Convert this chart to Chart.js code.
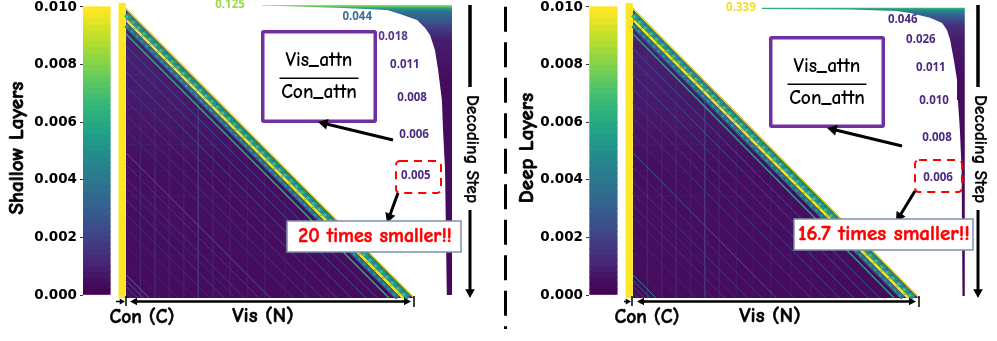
<!DOCTYPE html>
<html>
<head>
<meta charset="utf-8">
<title>Vis_attn / Con_attn</title>
<script src="https://cdn.jsdelivr.net/npm/chart.js@4"></script>
<style>
  html, body { margin: 0; padding: 0; background: #fff; }
  canvas { position: absolute; top: 0; }
</style>
</head>
<body>
<canvas id="shallow" width="507" height="341" style="left:0"></canvas>
<canvas id="deep" width="491" height="341" style="left:506px"></canvas>
<script>
// Colour bar ticks
const tickValues = [0, 0.002, 0.004, 0.006, 0.008, 0.01];
const viridis = ['#440154', '#482878', '#3e4a89', '#31688e', '#26828e', '#1f9e89', '#35b779', '#6ece58', '#b5de2b', '#fde725'];

const shallowRatios = [0.125, 0.044, 0.018, 0.011, 0.008, 0.006, 0.005];
const deepRatios = [0.339, 0.046, 0.026, 0.011, 0.010, 0.008, 0.006];

// Diagonal stripes: distance below the top edge (steps) and colour level 0-1
const shallowDiagOffsets = [9, 13, 17, 22, 27, 32, 37, 42, 50, 54, 59, 62, 66, 71, 76, 82, 88, 92, 94, 96, 98];
const shallowDiagValues = [0.62, 0.24, 0.25, 0.23, 0.2, 0.17, 0.15, 0.13, 0.3, 0.14, 0.17, 0.11, 0.16, 0.11, 0.1, 0.08, 0.07, 0.45, 0.3, 0.2, 0.14];
const deepDiagOffsets = [9, 14, 18, 23, 28, 33, 38, 44, 50, 55, 60, 64, 68, 72, 78, 84, 89, 92, 94, 96, 98];
const deepDiagValues = [0.58, 0.24, 0.24, 0.22, 0.19, 0.17, 0.15, 0.12, 0.28, 0.13, 0.16, 0.11, 0.15, 0.1, 0.1, 0.08, 0.07, 0.46, 0.3, 0.2, 0.14];

// Faint vertical and horizontal stripes of the heatmap
const stripeCols = [5, 10, 15, 20, 25, 30, 36, 42, 48, 55, 62, 70, 80];
const stripeColValues = [0.1, 0.09, 0.09, 0.08, 0.16, 0.08, 0.07, 0.07, 0.07, 0.06, 0.06, 0.06, 0.05];
const stripeRows = [11, 17, 23, 29, 35, 41, 47, 56, 65, 75, 85];
const stripeRowValues = [0.13, 0.12, 0.11, 0.1, 0.09, 0.08, 0.08, 0.06, 0.06, 0.05, 0.05];

// Edge of the ratio curve on the right: column reached at each step
const shallowCurveCols = [47, 53.3, 75.1, 90.3, 94.8, 100.7, 103.5, 105.2, 106.9, 108, 109.3, 109.7, 110.4, 111];
const shallowCurveSteps = [-0.86, -0.69, 0, 0.69, 2.07, 4.14, 6.9, 9.3, 14.5, 21.4, 31.7, 42.1, 55.9, 99];
const deepCurveCols = [44.9, 75.6, 92, 96.5, 103.5, 107.7, 109.4, 110.5, 111.8, 112.9, 113.2, 113.9, 114.5, 114.8];
const deepCurveSteps = [0.34, 0.5, 1, 1.7, 3.4, 5.2, 7.6, 11, 17.9, 24.8, 31.7, 42, 55.9, 99.3];

// Colour level of the curve area going down the steps
const shallowShadeSteps = [-1, -0.35, 0.35, 1.7, 4.1, 6.9, 11, 25, 99];
const shallowShadeValues = [0.9, 0.7, 0.5, 0.35, 0.28, 0.18, 0.08, 0.03, 0.02];
const deepShadeSteps = [-0.2, 0.2, 0.7, 1.7, 3.4, 5.9, 11, 25, 99];
const deepShadeValues = [0.95, 0.6, 0.5, 0.38, 0.26, 0.14, 0.07, 0.03, 0.02];

// Heatmap background going down the steps
const bodyShadeSteps = [0, 30, 55, 100];
const bodyShadeValues = [0.1, 0.07, 0.04, 0.03];

const COMIC = "'Comic Sans MS', 'Comic Neue', Lato, sans-serif";
const Y_PX = 28800; // pixels per colour bar unit

function viridisAt(level) {
  const pos = Math.min(Math.max(level, 0), 1) * (viridis.length - 1);
  const i = Math.min(Math.floor(pos), viridis.length - 2);
  const a = parseInt(viridis[i].slice(1), 16);
  const b = parseInt(viridis[i + 1].slice(1), 16);
  const mix = sh => Math.round(((a >> sh) & 255) * (1 - (pos - i)) + ((b >> sh) & 255) * (pos - i));
  return `rgb(${mix(16)},${mix(8)},${mix(0)})`;
}

// Vertical gradient taken through the step axis
function stepShade(chart, steps, values) {
  const scale = chart.scales.yStep;
  const top = scale ? scale.getPixelForValue(steps[0]) : NaN;
  const bottom = scale ? scale.getPixelForValue(steps[steps.length - 1]) : NaN;
  if (!isFinite(top) || !isFinite(bottom) || top === bottom) return viridisAt(values[0]);
  const grad = chart.ctx.createLinearGradient(0, top, 0, bottom);
  steps.forEach((s, i) => {
    grad.addColorStop((scale.getPixelForValue(s) - top) / (bottom - top), viridisAt(values[i]));
  });
  return grad;
}

function lineSet(points, color, width, dash) {
  return {
    type: 'scatter', yAxisID: 'yStep', data: points, showLine: true, pointRadius: 0,
    borderColor: color, borderWidth: width, borderDash: dash || [], tension: 0
  };
}

function shapeSet(points, fillColor) {
  return {
    type: 'scatter', yAxisID: 'yStep', data: points, showLine: true, pointRadius: 0,
    borderWidth: 0, backgroundColor: fillColor, fill: 'shape', tension: 0
  };
}

const diagonal = (offset, value, width, dash) =>
  lineSet([{ x: 0, y: offset }, { x: 100 - offset, y: 100 }], viridisAt(value), width, dash);

function buildDatasets(p) {
  const sets = [];

  // colour bar
  const levels = [];
  for (let i = 0; i < 50; i++) levels.push(i / 49);
  sets.push({
    type: 'bar', yAxisID: 'y', barThickness: 27.5,
    data: levels.map((l, i) => ({ x: p.barCol, y: [i * 0.0002, i * 0.0002 + 0.00021] })),
    backgroundColor: levels.map(viridisAt)
  });

  // heatmap body and Con column
  sets.push(shapeSet([{ x: 0, y: 0 }, { x: 100, y: 100 }, { x: 0, y: 100 }, { x: 0, y: 0 }],
    ctx => stepShade(ctx.chart, bodyShadeSteps, bodyShadeValues)));
  sets.push(shapeSet([{ x: -2.6, y: -1.7 }, { x: -0.05, y: -1.7 }, { x: -0.05, y: 100 }, { x: -2.6, y: 100 }, { x: -2.6, y: -1.7 }], '#fde725'));

  p.rows.forEach((r, i) => sets.push(lineSet([{ x: 0, y: r }, { x: r - 1, y: r }], viridisAt(stripeRowValues[i]), 1)));
  p.cols.forEach((c, i) => sets.push(lineSet([{ x: c, y: c + 4 }, { x: c, y: 100 }], viridisAt(stripeColValues[i]), 1)));
  p.diagOffsets.forEach((d, i) => sets.push(diagonal(d, p.diagValues[i], d === 9 ? 1.4 : 1)));

  // bright bands along the top edge
  sets.push(diagonal(6, 0.34, 4.5));
  sets.push(diagonal(6, 0.55, 2.2, [3, 4]));
  sets.push(diagonal(2.2, 0.52, 5.5));
  sets.push(diagonal(2.6, 0.72, 2.2, [3, 5]));
  sets.push(diagonal(1.6, 0.3, 1.4, [2, 6]));
  sets.push(diagonal(4.1, 0.98, 2.6));
  sets.push(diagonal(4.1, 0.45, 1, [2, 9]));
  sets.push(diagonal(0.25, 0.96, 1.6));

  // ratio curve
  const curve = p.curveCols.map((c, i) => ({ x: c, y: p.curveSteps[i] })).reverse();
  sets.push(shapeSet([
    { x: p.curveRight, y: p.curveSteps[p.curveSteps.length - 1] }, ...curve,
    { x: p.curveCols[0], y: p.curveTop }, { x: p.curveRight, y: p.curveTop },
    { x: p.curveRight, y: p.curveSteps[p.curveSteps.length - 1] }
  ], ctx => stepShade(ctx.chart, p.shadeSteps, p.shadeValues)));

  return sets.reverse(); // first dataset is drawn on top
}

function arrow(ctx, x0, y0, x1, y1, width, head) {
  const a = Math.atan2(y1 - y0, x1 - x0);
  ctx.strokeStyle = ctx.fillStyle = '#000';
  ctx.lineWidth = width;
  ctx.setLineDash([]);
  ctx.beginPath();
  ctx.moveTo(x0, y0);
  ctx.lineTo(x1 - Math.cos(a) * head * 0.7, y1 - Math.sin(a) * head * 0.7);
  ctx.stroke();
  ctx.beginPath();
  ctx.moveTo(x1, y1);
  ctx.lineTo(x1 - Math.cos(a - 0.5) * head, y1 - Math.sin(a - 0.5) * head);
  ctx.lineTo(x1 - Math.cos(a + 0.5) * head, y1 - Math.sin(a + 0.5) * head);
  ctx.closePath();
  ctx.fill();
}

function label(ctx, text, x, y, font, color, angle, thicken) {
  ctx.save();
  ctx.translate(x, y);
  if (angle) ctx.rotate(angle);
  ctx.font = font;
  ctx.fillStyle = color;
  ctx.textAlign = 'center';
  ctx.textBaseline = 'middle';
  ctx.fillText(text, 0, 0);
  if (thicken) {
    ctx.strokeStyle = color;
    ctx.lineWidth = thicken;
    ctx.setLineDash([]);
    ctx.strokeText(text, 0, 0);
  }
  ctx.restore();
}

// Everything drawn on top of the heatmap; notes use page coordinates
const notesPlugin = {
  id: 'notes',
  afterDatasetsDraw(chart) {
    const n = chart.options.plugins.notes;
    const ctx = chart.ctx;
    const { x: xs, yStep } = chart.scales;
    ctx.save();

    // ratios next to the curve
    n.ratios.forEach((v, i) => {
      label(ctx, v.toFixed(3), xs.getPixelForValue(n.ratioCols[i]), yStep.getPixelForValue(n.ratioSteps[i]),
        "bold 11.5px 'Open Sans'", n.ratioColors[i]);
    });

    ctx.translate(-n.left, 0);
    label(ctx, n.title, n.titleX, 148, `bold 21px ${COMIC}`, '#000', -Math.PI / 2, 0.7);

    // x brackets
    arrow(ctx, n.conLeft, 301.5, n.conTick - 1, 301.5, 1.5, 6);
    arrow(ctx, n.visStart + 8, 301.5, n.visStart, 301.5, 2.5, 8);
    arrow(ctx, n.visStart + 6, 301.5, n.visEnd - 1, 301.5, 2.5, 8);
    ctx.lineWidth = 1.5;
    ctx.beginPath();
    ctx.moveTo(n.conTick, 296); ctx.lineTo(n.conTick, 306);
    ctx.moveTo(n.visEnd + 2, 296); ctx.lineTo(n.visEnd + 2, 307);
    ctx.stroke();
    label(ctx, 'Con (C)', n.conLabel, 317, `bold 19.5px ${COMIC}`, '#000', 0, 0.5);
    label(ctx, 'Vis (N)', n.visLabel, 316, `bold 21px ${COMIC}`, '#000', 0, 0.5);

    // decoding step arrow
    ctx.fillStyle = '#000';
    ctx.fillRect(n.stepX - 1.75, 5, 3.5, 82);
    arrow(ctx, n.stepX, 210, n.stepX, 298, 3, 10);
    label(ctx, 'Decoding Step', n.stepX + 2, 149, `bold 17.5px ${COMIC}`, '#000', Math.PI / 2, 0.3);

    // Vis_attn / Con_attn box
    const b = n.box;
    ctx.strokeStyle = '#7030a0';
    ctx.fillStyle = '#fff';
    ctx.lineWidth = 3.5;
    ctx.beginPath();
    ctx.roundRect(b.x + 1.75, b.y + 1.75, b.w - 3.5, b.h - 3.5, 1);
    ctx.fill();
    ctx.stroke();
    const mid = b.x + b.w / 2;
    label(ctx, 'Vis_attn', mid, b.y + 30, `bold 19.5px ${COMIC}`, '#000');
    label(ctx, 'Con_attn', mid, b.y + 62, `bold 19.5px ${COMIC}`, '#000');
    ctx.fillStyle = '#000';
    ctx.fillRect(mid - 39.5, b.y + 47.5, 79, 1.5);
    arrow(ctx, b.fromX, b.fromY, b.toX, b.toY, 3, 11);

    // dashed highlight and "times smaller" call-out
    const r = n.red;
    ctx.strokeStyle = '#ff0000';
    ctx.lineWidth = 2;
    ctx.setLineDash([8, 6]);
    ctx.beginPath();
    ctx.roundRect(r.x, r.y, r.w, r.h, 4);
    ctx.stroke();
    ctx.setLineDash([]);
    arrow(ctx, r.fromX, r.fromY, r.toX, r.toY, 3, 11);
    const c = n.callout;
    ctx.fillStyle = '#fff';
    ctx.strokeStyle = '#7f8fa9';
    ctx.lineWidth = 1.5;
    ctx.fillRect(c.x, c.y, c.w, c.h);
    ctx.strokeRect(c.x, c.y, c.w, c.h);
    label(ctx, c.text, c.textX, c.y + c.h / 2, `bold ${c.size}px ${COMIC}`, '#ff0000', 0, 0.5);

    // panel separator
    if (n.left === 0) {
      ctx.strokeStyle = '#000';
      ctx.lineWidth = 3;
      ctx.setLineDash([25, 10.5]);
      ctx.beginPath();
      ctx.moveTo(505.5, 6.7);
      ctx.lineTo(505.5, 329);
      ctx.stroke();
    }
    ctx.restore();
  }
};

function drawPanel(id, p) {
  const canvas = document.getElementById(id);
  new Chart(canvas, {
    type: 'scatter',
    data: { datasets: buildDatasets(p) },
    plugins: [notesPlugin],
    options: {
      responsive: false,
      animation: false,
      events: [],
      layout: { padding: 0 },
      plugins: { legend: { display: false }, tooltip: { enabled: false }, notes: p.notes },
      scales: {
        x: { type: 'linear', display: false, offset: false, min: -(p.zeroX - 83) / p.unitX, max: (canvas.width - p.zeroX) / p.unitX },
        yStep: { type: 'linear', display: false, reverse: true, min: -8 / 2.9, max: (341 - 8) / 2.9 },
        y: {
          type: 'linear',
          position: 'left',
          min: -46 / Y_PX,
          max: 0.01 + 7 / Y_PX,
          afterBuildTicks: scale => { scale.ticks = tickValues.map(v => ({ value: v })); },
          afterFit: scale => {
            scale.width = 83;
            scale.paddingTop = scale.paddingBottom = 0;
          },
          grid: { drawOnChartArea: false, drawTicks: true, tickLength: 3, color: '#333' },
          border: { display: false },
          ticks: {
            padding: 3,
            color: '#000',
            font: { family: "'DejaVu Sans'", weight: 'bold', size: 13.5 },
            callback: v => v.toFixed(3)
          }
        }
      }
    }
  });
}

drawPanel('shallow', {
  zeroX: 126, unitX: 2.89, barCol: -10.2,
  diagOffsets: shallowDiagOffsets, diagValues: shallowDiagValues,
  rows: stripeRows, cols: stripeCols,
  curveCols: shallowCurveCols, curveSteps: shallowCurveSteps, curveTop: -1.03, curveRight: 112.8,
  shadeSteps: shallowShadeSteps, shadeValues: shallowShadeValues,
  notes: {
    left: 0, title: 'Shallow Layers', titleX: 17,
    ratios: shallowRatios,
    ratioCols: [36, 80, 92.4, 96.5, 99, 99.7, 100.3],
    ratioSteps: [-1, 3.1, 10, 19.7, 31, 43.8, 57.9],
    ratioColors: ['#9bdb4a', '#3e6e96', '#55398f', '#4e2a86', '#4a2a82', '#4a2a82', '#4a2a82'],
    conLeft: 116, conTick: 126, visStart: 130, visEnd: 412, conLabel: 142, visLabel: 263, stepX: 470,
    box: { x: 261, y: 30, w: 116, h: 93, fromX: 393, fromY: 140, toX: 318, toY: 122 },
    red: { x: 396, y: 161, w: 45, h: 32, fromX: 398, fromY: 193, toX: 387, toY: 223 },
    callout: { x: 287, y: 221, w: 174, h: 31, text: '20 times smaller!!', textX: 375, size: 20 }
  }
});

drawPanel('deep', {
  zeroX: 127, unitX: 2.87, barCol: -10.3,
  diagOffsets: deepDiagOffsets, diagValues: deepDiagValues,
  rows: stripeRows, cols: stripeCols,
  curveCols: deepCurveCols, curveSteps: deepCurveSteps, curveTop: -0.17, curveRight: 115.6,
  shadeSteps: deepShadeSteps, shadeValues: deepShadeValues,
  notes: {
    left: 506, title: 'Deep Layers', titleX: 527,
    ratios: deepRatios,
    ratioCols: [37.6, 94, 100.3, 103.8, 104.9, 105.9, 106.3],
    ratioSteps: [0, 4.1, 11, 20.7, 32.1, 44.8, 58.6],
    ratioColors: ['#f5dc2b', '#4a2a82', '#4a2a82', '#4a2a82', '#4a2a82', '#4a2a82', '#4a2a82'],
    conLeft: 624, conTick: 632, visStart: 637, visEnd: 917, conLabel: 647, visLabel: 770, stepX: 978,
    box: { x: 769, y: 36, w: 116, h: 92, fromX: 902, fromY: 146, toX: 827, toY: 128 },
    red: { x: 915, y: 160, w: 47, h: 32, fromX: 915, fromY: 191, toX: 896, toY: 222 },
    callout: { x: 794, y: 219, w: 179, h: 31, text: '16.7 times smaller!!', textX: 884, size: 21 }
  }
});
</script>
</body>
</html>
